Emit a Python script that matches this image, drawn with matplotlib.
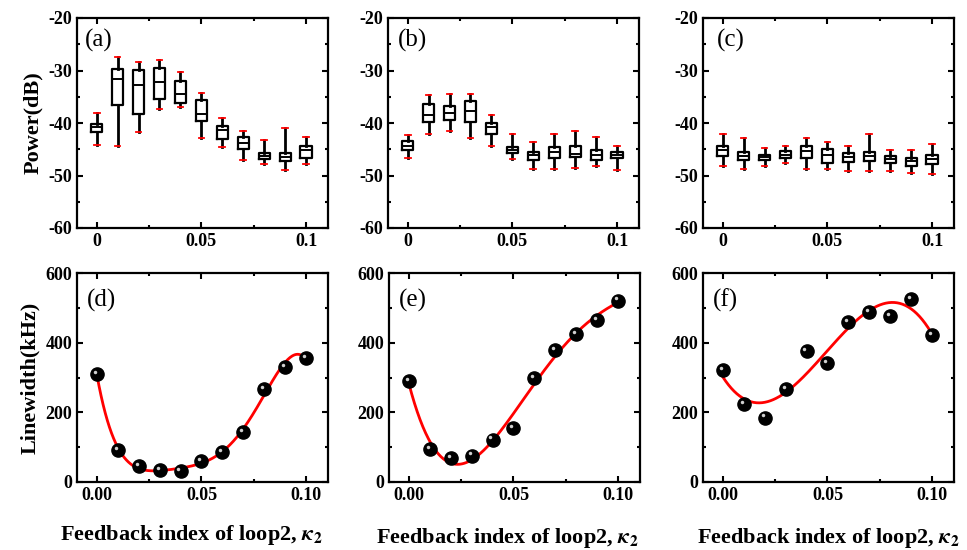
import numpy as np
import matplotlib
matplotlib.use("Agg")
import matplotlib.pyplot as plt
from matplotlib.ticker import MultipleLocator
import matplotlib.transforms as mtransforms

plt.rcParams['font.family'] = ['Liberation Serif', 'DejaVu Serif']
plt.rcParams['mathtext.fontset'] = 'stix'
plt.rcParams['axes.unicode_minus'] = False

kappa = [0.0, 0.01, 0.02, 0.03, 0.04, 0.05, 0.06, 0.07, 0.08, 0.09, 0.1]

# box stats per panel: whisker low, q1, median, q3, whisker high (dB)
a_lo = [-44.1, -44.4, -41.7, -37.4, -36.9, -42.8, -44.6, -47.1, -47.9, -48.9, -47.8]
a_q1 = [-41.7, -36.6, -38.2, -35.5, -36.1, -39.6, -43.0, -45.0, -46.9, -47.2, -46.6]
a_med = [-40.8, -31.7, -32.7, -32.2, -34.5, -38.2, -41.3, -43.9, -46.2, -46.4, -45.2]
a_q3 = [-40.1, -29.7, -29.9, -29.5, -32.0, -35.7, -40.5, -42.7, -45.7, -45.8, -44.3]
a_hi = [-38.0, -27.5, -28.3, -28.0, -30.3, -34.3, -39.0, -41.6, -43.3, -41.0, -42.7]

b_lo = [-46.6, -42.0, -41.5, -42.8, -44.3, -46.8, -48.8, -48.8, -48.6, -48.2, -48.9]
b_q1 = [-45.2, -39.9, -39.4, -39.9, -42.0, -45.8, -47.1, -46.6, -46.5, -47.0, -46.6]
b_med = [-44.3, -38.4, -38.0, -37.7, -40.8, -45.2, -46.1, -45.5, -45.9, -46.0, -46.0]
b_q3 = [-43.5, -36.4, -36.7, -35.8, -40.0, -44.6, -45.6, -44.6, -44.3, -45.2, -45.5]
b_hi = [-42.2, -34.7, -34.4, -34.4, -38.5, -42.1, -43.6, -42.0, -41.6, -42.6, -44.3]

c_lo = [-48.1, -48.7, -48.2, -47.7, -48.7, -48.8, -49.2, -49.2, -49.2, -49.6, -49.8]
c_q1 = [-46.2, -47.0, -47.0, -46.7, -46.6, -47.6, -47.4, -47.3, -47.7, -48.2, -47.9]
c_med = [-45.2, -46.2, -46.4, -46.0, -45.3, -46.1, -46.5, -46.3, -46.8, -47.3, -46.8]
c_q3 = [-44.4, -45.6, -46.0, -45.4, -44.4, -44.9, -45.8, -45.6, -46.3, -46.7, -46.0]
c_hi = [-42.1, -42.8, -44.7, -44.4, -42.8, -43.6, -44.4, -42.1, -45.1, -45.1, -44.0]

# linewidth (kHz)
d_lw = [310, 92, 46, 35, 32, 60, 86, 143, 268, 331, 355]
e_lw = [289, 95, 70, 76, 122, 155, 298, 380, 425, 466, 521]
f_lw = [321, 224, 185, 267, 377, 341, 459, 489, 476, 524, 423]
fit_deg = [5, 4, 3]

top_sets = [(a_lo, a_q1, a_med, a_q3, a_hi), (b_lo, b_q1, b_med, b_q3, b_hi),
            (c_lo, c_q1, c_med, c_q3, c_hi)]
bottom_sets = [d_lw, e_lw, f_lw]
top_tags = ['(a)', '(b)', '(c)']
bottom_tags = ['(d)', '(e)', '(f)']

W, H = 967, 550
fig = plt.figure(figsize=(W / 100, H / 100), dpi=100)

lefts_top = [77, 388, 703]
lefts_bot = [77, 389, 703]
tag_x = [0.03, 0.04, 0.055]
xlab_pos = [(0.455, -0.195), (0.47, -0.21), (0.5, -0.21)]


def style_axes(ax):
    for s in ax.spines.values():
        s.set_linewidth(1.6)
    ax.tick_params(which='both', direction='in', top=True, right=True, width=1.5)
    ax.tick_params(which='major', length=4, labelsize=13)
    ax.tick_params(which='minor', length=2.5)
    for lab in ax.get_xticklabels() + ax.get_yticklabels():
        lab.set_fontweight('bold')


for i in range(3):
    ax = fig.add_axes([lefts_top[i] / W, 1 - 228 / H, 251 / W, 210 / H])
    lo, q1, med, q3, hi = top_sets[i]
    stats = []
    for k in range(len(kappa)):
        stats.append(dict(whislo=lo[k], q1=q1[k], med=med[k], q3=q3[k], whishi=hi[k], fliers=[]))
    ax.bxp(stats, positions=kappa, widths=0.0053, capwidths=0.0027, manage_ticks=False,
           boxprops=dict(color='black', linewidth=1.6),
           whiskerprops=dict(color='black', linewidth=2),
           capprops=dict(color='red', linewidth=1.3),
           medianprops=dict(color='black', linewidth=1.4))
    ax.set_xlim(-0.0094, 0.1105)
    ax.set_ylim(-60, -20)
    ax.set_xticks([0, 0.05, 0.1])
    ax.set_xticklabels(['0', '0.05', '0.1'])
    ax.xaxis.set_minor_locator(MultipleLocator(0.025))
    ax.yaxis.set_major_locator(MultipleLocator(10))
    ax.yaxis.set_minor_locator(MultipleLocator(5))
    style_axes(ax)
    ax.text(tag_x[i], 0.895, top_tags[i], transform=ax.transAxes, fontsize=18, va='center')
    if i == 0:
        ax.set_ylabel('Power(dB)', fontsize=16, fontweight='bold', labelpad=4)

for i in range(3):
    ax = fig.add_axes([lefts_bot[i] / W, 1 - 482 / H, 251 / W, 209 / H])
    y = np.array(bottom_sets[i], dtype=float)
    x = np.array(kappa)
    coef = np.polyfit(x, y, fit_deg[i])
    xs = np.linspace(0, 0.1, 300)
    ax.plot(xs, np.polyval(coef, xs), color='red', linewidth=2, zorder=2)
    ax.plot(x, y, 'o', color='black', markersize=9.5, zorder=3)
    hl = mtransforms.offset_copy(ax.transData, fig=fig, x=-1.5, y=1.5, units='points')
    ax.plot(x, y, 'o', color='#d0d0d0', markersize=2.5, markeredgewidth=0, transform=hl, zorder=4)
    ax.set_xlim(-0.0095, 0.1105)
    ax.set_ylim(0, 600)
    ax.set_xticks([0, 0.05, 0.1])
    ax.set_xticklabels(['0.00', '0.05', '0.10'])
    ax.xaxis.set_minor_locator(MultipleLocator(0.025))
    ax.yaxis.set_major_locator(MultipleLocator(200))
    ax.yaxis.set_minor_locator(MultipleLocator(100))
    style_axes(ax)
    ax.text(0.04, 0.87, bottom_tags[i], transform=ax.transAxes, fontsize=18, va='center')
    ax.set_xlabel(r'Feedback index of loop2, $\boldsymbol{\kappa}_{\mathbf{2}}$', fontsize=16,
                  fontweight='bold', va='top')
    ax.xaxis.set_label_coords(*xlab_pos[i])
    if i == 0:
        ax.set_ylabel('Linewidth(kHz)', fontsize=16, fontweight='bold', labelpad=4)

fig.savefig('out.png', dpi=100)
